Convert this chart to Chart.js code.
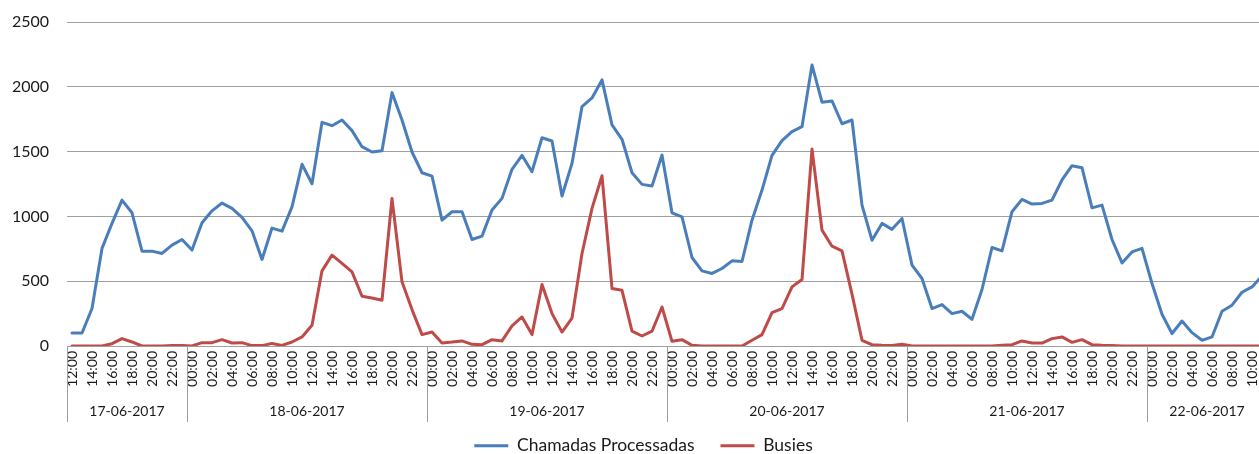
<!DOCTYPE html>
<html>
<head>
<meta charset="utf-8">
<script src="https://cdn.jsdelivr.net/npm/chart.js@4.4.1/dist/chart.umd.min.js"></script>
<style>
  html, body { margin: 0; padding: 0; background: #fff; overflow: hidden; }
  #wrap { position: relative; width: 1290px; height: 454px; }
</style>
</head>
<body>
<div id="wrap"><canvas id="c"></canvas></div>
<script>
const timeLabels = [
  "12:00","13:00","14:00","15:00","16:00","17:00","18:00","19:00","20:00","21:00","22:00","23:00",
  "00:00","01:00","02:00","03:00","04:00","05:00","06:00","07:00","08:00","09:00","10:00","11:00",
  "12:00","13:00","14:00","15:00","16:00","17:00","18:00","19:00","20:00","21:00","22:00","23:00",
  "00:00","01:00","02:00","03:00","04:00","05:00","06:00","07:00","08:00","09:00","10:00","11:00",
  "12:00","13:00","14:00","15:00","16:00","17:00","18:00","19:00","20:00","21:00","22:00","23:00",
  "00:00","01:00","02:00","03:00","04:00","05:00","06:00","07:00","08:00","09:00","10:00","11:00",
  "12:00","13:00","14:00","15:00","16:00","17:00","18:00","19:00","20:00","21:00","22:00","23:00",
  "00:00","01:00","02:00","03:00","04:00","05:00","06:00","07:00","08:00","09:00","10:00","11:00",
  "12:00","13:00","14:00","15:00","16:00","17:00","18:00","19:00","20:00","21:00","22:00","23:00",
  "00:00","01:00","02:00","03:00","04:00","05:00","06:00","07:00","08:00","09:00","10:00","11:00"
];
const dayLabels = ["17-06-2017","18-06-2017","19-06-2017","20-06-2017","21-06-2017","22-06-2017"];
const dayStartIndex = [0, 12, 36, 60, 84, 108];

const chamadasProcessadas = [
  100,100,289,753,946,1126,1028,732,732,714,778,822,
  740,951,1043,1103,1062,992,889,668,910,886,1074,1402,1252,1726,1700,1744,1662,1538,1497,1507,1955,1744,1497,1337,
  1311,971,1036,1036,822,848,1049,1139,1363,1471,1345,1607,1582,1157,1409,1847,1914,2053,1706,1595,1337,1247,1234,1474,
  1028,997,683,580,560,598,657,652,971,1203,1471,1584,1654,1692,2169,1881,1891,1715,1744,1087,816,946,900,984,
  624,521,289,320,250,268,206,436,760,734,1036,1131,1095,1100,1126,1281,1391,1376,1066,1087,822,641,726,753,
  482,245,96,193,103,44,70,268,315,415,456,540
];
const busies = [
  0,0,0,0,18,57,31,0,0,0,3,3,
  0,26,26,49,23,26,3,3,20,5,31,70,160,580,701,637,572,384,371,353,1139,495,281,88,
  108,23,30,39,13,10,49,39,155,224,88,474,250,108,216,714,1062,1314,444,430,114,77,114,301,
  36,49,5,0,0,0,0,0,44,88,258,289,456,513,1520,894,770,734,400,44,10,5,3,13,
  0,0,0,0,0,0,0,0,0,5,10,39,23,23,57,70,28,49,10,5,3,0,0,0,
  0,0,0,0,0,0,0,0,0,0,0,0
];
const yTicks = [0, 500, 1000, 1500, 2000, 2500];

const FONT = "Lato, 'Open Sans', sans-serif";
const GRID = "#9f9f9f";
const TEXT = "#1a1a1a";

const dayGroupPlugin = {
  id: 'dayGroups',
  afterLayout(chart) {
    if (chart.legend) { chart.legend.left += 20; }
  },
  afterDraw(chart) {
    const x = chart.scales.x;
    const ctx = chart.ctx;
    const half = (x.getPixelForValue(1) - x.getPixelForValue(0)) / 2;
    const top = chart.chartArea.bottom;
    const lineBottom = 422;
    ctx.save();
    ctx.strokeStyle = GRID;
    ctx.lineWidth = 1;
    ctx.fillStyle = TEXT;
    ctx.font = "14px " + FONT;
    ctx.textAlign = 'center';
    ctx.textBaseline = 'middle';
    for (let d = 0; d < dayStartIndex.length; d++) {
      const s = dayStartIndex[d];
      const e = d + 1 < dayStartIndex.length ? dayStartIndex[d + 1] : timeLabels.length;
      const left = x.getPixelForValue(s) - half;
      const right = x.getPixelForValue(e - 1) + half;
      const px = Math.round(left) + 0.5;
      ctx.beginPath();
      ctx.moveTo(px, top);
      ctx.lineTo(px, lineBottom);
      ctx.stroke();
      ctx.fillText(dayLabels[d], (left + right) / 2, 411);
    }
    ctx.restore();
  }
};

new Chart(document.getElementById('c'), {
  type: 'line',
  data: {
    labels: timeLabels,
    datasets: [
      {
        label: 'Chamadas Processadas',
        data: chamadasProcessadas,
        borderColor: '#4A7EBB',
        backgroundColor: '#4A7EBB',
        borderWidth: 3,
        pointRadius: 0,
        tension: 0,
        borderJoinStyle: 'round',
        borderCapStyle: 'round'
      },
      {
        label: 'Busies',
        data: busies,
        borderColor: '#BE4B48',
        backgroundColor: '#BE4B48',
        borderWidth: 3,
        pointRadius: 0,
        tension: 0,
        borderJoinStyle: 'round',
        borderCapStyle: 'round'
      }
    ]
  },
  options: {
    responsive: true,
    maintainAspectRatio: false,
    animation: false,
    layout: { padding: { top: 22, right: 23, left: 0, bottom: 0 } },
    plugins: {
      tooltip: { enabled: false },
      legend: {
        position: 'bottom',
        maxHeight: 43,
        labels: {
          usePointStyle: true,
          pointStyle: 'line',
          pointStyleWidth: 34,
          padding: 26,
          color: TEXT,
          font: { family: FONT, size: 17.5 }
        }
      }
    },
    scales: {
      x: {
        type: 'category',
        offset: true,
        grid: { display: false, drawTicks: false },
        border: { display: true, color: GRID, width: 1 },
        ticks: {
          autoSkip: false,
          maxRotation: 90,
          minRotation: 90,
          padding: 5,
          color: TEXT,
          font: { family: FONT, size: 14 },
          callback: function (value, index) {
            return index % 2 === 0 ? timeLabels[index] : null;
          }
        },
        afterFit(scale) { scale.height = 65; }
      },
      y: {
        min: 0,
        max: 2500,
        afterBuildTicks(scale) { scale.ticks = yTicks.map(v => ({ value: v })); },
        grid: { color: GRID, lineWidth: 1, drawTicks: true, tickLength: 18, tickColor: 'rgba(0,0,0,0)' },
        border: { display: false },
        ticks: {
          padding: 0,
          color: TEXT,
          font: { family: FONT, size: 16 },
          callback: function (value) { return String(value); }
        },
        afterFit(scale) { scale.width = 67; }
      }
    }
  },
  plugins: [dayGroupPlugin]
});
</script>
</body>
</html>
